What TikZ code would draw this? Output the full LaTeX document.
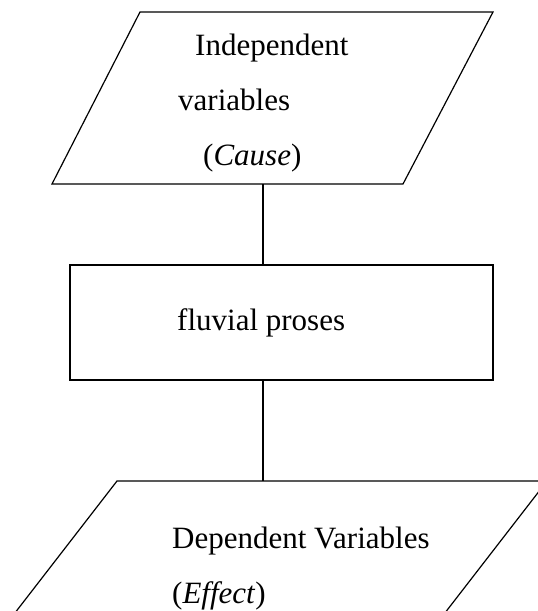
\documentclass[tikz,border=0pt]{standalone}
\usepackage{fontspec}
\setmainfont{Liberation Serif}
\begin{document}
\begin{tikzpicture}[x=1pt,y=-1pt,
  shapeline/.style={draw=black,line width=1.2pt,line join=miter},
  boxline/.style={draw=black,line width=1.5pt},
  conn/.style={draw=black,line width=1.2pt},
  label/.style={anchor=base west,inner sep=0pt,font=\fontsize{31}{37}\selectfont}]
\useasboundingbox (0,0) rectangle (538,611);
\clip (0,0) rectangle (538,611);
% top parallelogram
\coordinate (p1tl) at (140,12);
\coordinate (p1tr) at (493,12);
\coordinate (p1br) at (403,184);
\coordinate (p1bl) at (52,184);
\path[shapeline] (p1tl) -- (p1tr) -- (p1br) -- (p1bl) -- cycle;
\node[label] (t1) at (195,55) {Independent};
\node[label] (t2) at (178,110) {variables};
\node[label] (t3) at (203,165) {(\textit{Cause})};
% rectangle
\node[boxline,minimum width=423pt,minimum height=115pt,inner sep=0pt] (rect) at (281.5,322.5) {};
\node[label] (t4) at (177,330) {fluvial proses};
% bottom parallelogram
\coordinate (p2tl) at (117,481);
\coordinate (p2tr) at (547,481);
\coordinate (p2br) at (424,640);
\coordinate (p2bl) at (-6,640);
\path[shapeline] (p2tl) -- (p2tr) -- (p2br) -- (p2bl) -- cycle;
\node[label] (t5) at (172,548) {Dependent Variables};
\node[label] (t6) at (172,603) {(\textit{Effect})};
% connectors
\coordinate (c1) at (263,184);
\coordinate (c2) at (263,481);
\draw[conn] (c1) -- (c1 |- rect.north);
\draw[conn] (rect.south -| c2) -- (c2);
\end{tikzpicture}
\end{document}
